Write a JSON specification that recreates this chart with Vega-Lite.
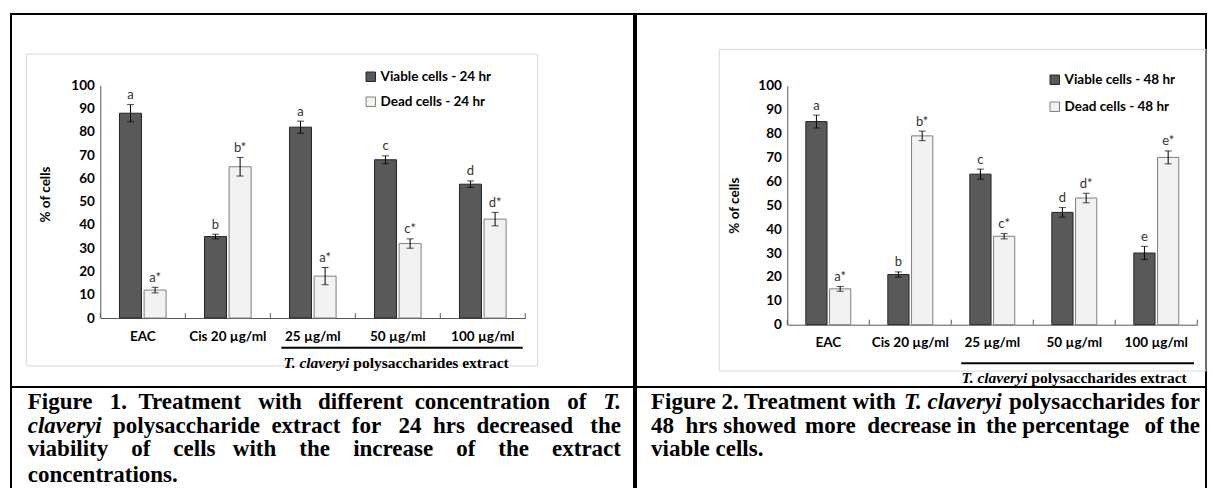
{
  "padding": {"left": 10, "top": 13, "right": 0, "bottom": 0},
  "background": "white",
  "config": {
    "view": {"stroke": "black", "strokeWidth": 2},
    "axisY": {"labelOverlap": false, "tickCount": 11},
    "axisX": {"labelOverlap": false},
    "style": {"cap": {"font": "Liberation Serif", "fontWeight": "bold", "fontSize": 23, "baseline": "alphabetic", "fill": "black"}}
  },
  "datasets": {
    "cells": [
      {"time": "24 hr", "group": "EAC", "cell": "Viable", "series": "Viable cells - 24 hr", "value": 88, "lo": 84.3, "hi": 91.7, "letter": "a"},
      {"time": "24 hr", "group": "EAC", "cell": "Dead", "series": "Dead cells - 24 hr", "value": 12, "lo": 10.8, "hi": 13.2, "letter": "a*"},
      {"time": "24 hr", "group": "Cis 20 µg/ml", "cell": "Viable", "series": "Viable cells - 24 hr", "value": 35, "lo": 34, "hi": 36, "letter": "b"},
      {"time": "24 hr", "group": "Cis 20 µg/ml", "cell": "Dead", "series": "Dead cells - 24 hr", "value": 65, "lo": 61, "hi": 69, "letter": "b*"},
      {"time": "24 hr", "group": "25 µg/ml", "cell": "Viable", "series": "Viable cells - 24 hr", "value": 82, "lo": 79.4, "hi": 84.6, "letter": "a"},
      {"time": "24 hr", "group": "25 µg/ml", "cell": "Dead", "series": "Dead cells - 24 hr", "value": 18, "lo": 14.3, "hi": 21.7, "letter": "a*"},
      {"time": "24 hr", "group": "50 µg/ml", "cell": "Viable", "series": "Viable cells - 24 hr", "value": 68, "lo": 66.3, "hi": 69.7, "letter": "c"},
      {"time": "24 hr", "group": "50 µg/ml", "cell": "Dead", "series": "Dead cells - 24 hr", "value": 32, "lo": 30, "hi": 34, "letter": "c*"},
      {"time": "24 hr", "group": "100 µg/ml", "cell": "Viable", "series": "Viable cells - 24 hr", "value": 57.5, "lo": 56.1, "hi": 58.9, "letter": "d"},
      {"time": "24 hr", "group": "100 µg/ml", "cell": "Dead", "series": "Dead cells - 24 hr", "value": 42.5, "lo": 39.6, "hi": 45.4, "letter": "d*"},
      {"time": "48 hr", "group": "EAC", "cell": "Viable", "series": "Viable cells - 48 hr", "value": 85, "lo": 82.3, "hi": 87.7, "letter": "a"},
      {"time": "48 hr", "group": "EAC", "cell": "Dead", "series": "Dead cells - 48 hr", "value": 15, "lo": 14, "hi": 16, "letter": "a*"},
      {"time": "48 hr", "group": "Cis 20 µg/ml", "cell": "Viable", "series": "Viable cells - 48 hr", "value": 21, "lo": 19.9, "hi": 22.1, "letter": "b"},
      {"time": "48 hr", "group": "Cis 20 µg/ml", "cell": "Dead", "series": "Dead cells - 48 hr", "value": 79, "lo": 77, "hi": 81, "letter": "b*"},
      {"time": "48 hr", "group": "25 µg/ml", "cell": "Viable", "series": "Viable cells - 48 hr", "value": 63, "lo": 60.9, "hi": 65.1, "letter": "c"},
      {"time": "48 hr", "group": "25 µg/ml", "cell": "Dead", "series": "Dead cells - 48 hr", "value": 37, "lo": 35.9, "hi": 38.1, "letter": "c*"},
      {"time": "48 hr", "group": "50 µg/ml", "cell": "Viable", "series": "Viable cells - 48 hr", "value": 47, "lo": 45, "hi": 49, "letter": "d"},
      {"time": "48 hr", "group": "50 µg/ml", "cell": "Dead", "series": "Dead cells - 48 hr", "value": 53, "lo": 51, "hi": 55, "letter": "d*"},
      {"time": "48 hr", "group": "100 µg/ml", "cell": "Viable", "series": "Viable cells - 48 hr", "value": 30, "lo": 27.2, "hi": 32.8, "letter": "e"},
      {"time": "48 hr", "group": "100 µg/ml", "cell": "Dead", "series": "Dead cells - 48 hr", "value": 70, "lo": 67.3, "hi": 72.7, "letter": "e*"}
    ],
    "span": [
      {"first": "25 µg/ml", "mid": "50 µg/ml", "last": "100 µg/ml", "species": "T. claveryi", "rest": "polysaccharides extract"}
    ]
  },
  "spacing": 0,
  "resolve": {
    "scale": {"fill": "independent", "stroke": "independent", "xOffset": "independent"},
    "legend": {"fill": "independent", "stroke": "independent"}
  },
  "hconcat": [
    {
      "spacing": 0,
      "bounds": "flush",
      "vconcat": [
        {
          "width": 623,
          "height": 373,
          "resolve": {"scale": {"x": "independent"}, "axis": {"x": "independent"}},
          "layer": [
            {
              "data": {"values": [{}]},
              "mark": {"type": "rect", "fill": "transparent", "stroke": "#d9d9d9", "strokeWidth": 1},
              "encoding": {
                "x": {"datum": 0.0246, "type": "quantitative", "scale": {"domain": [0, 1], "range": [0, 623], "nice": false, "zero": false}, "axis": null},
                "x2": {"datum": 0.8454},
                "y": {"datum": 113.45, "type": "quantitative"},
                "y2": {"datum": -20.6}
              }
            },
            {
              "layer": [
                {
                  "data": {"name": "cells"},
                  "transform": [{"filter": "datum.time === '24 hr'"}],
                  "mark": {"type": "bar", "strokeWidth": 1},
                  "encoding": {
                    "x": {"field": "group", "type": "nominal", "title": null,
                      "scale": {"domain": ["EAC", "Cis 20 µg/ml", "25 µg/ml", "50 µg/ml", "100 µg/ml"], "range": [89.3, 514.3], "paddingInner": 0, "paddingOuter": 0},
                      "axis": {"offset": -69, "ticks": false, "labelAngle": 0, "labelPadding": 11, "domainColor": "#595959", "labelFont": "Lato", "labelFontWeight": "bold", "labelFontSize": 13.5, "labelColor": "black", "labelOverlap": false}},
                    "xOffset": {"field": "series", "type": "nominal", "scale": {"domain": ["Viable cells - 24 hr", "Dead cells - 24 hr"], "paddingInner": 0.106, "paddingOuter": 0.78}},
                    "y": {"field": "value", "type": "quantitative", "title": "% of cells",
                      "scale": {"domain": [0, 100], "range": [304, 71.3], "nice": false, "zero": false},
                      "axis": {"offset": -89.3, "values": [0, 10, 20, 30, 40, 50, 60, 70, 80, 90, 100], "tickCount": 11, "labelOverlap": false, "ticks": false, "grid": false, "domainColor": "#595959", "labelFont": "Lato", "labelFontWeight": "bold", "labelFontSize": 13.5, "labelColor": "black", "labelPadding": 6, "titleFont": "Lato", "titleFontWeight": "bold", "titleFontSize": 13.5, "titleColor": "black", "titlePadding": 18, "titleY": 180}},
                    "fill": {"field": "series", "type": "nominal", "title": null,
                      "scale": {"domain": ["Viable cells - 24 hr", "Dead cells - 24 hr"], "range": ["#595959", "#f2f2f2"]},
                      "legend": {"orient": "none", "legendX": 353, "legendY": 56, "symbolType": "square", "symbolSize": 90, "symbolStrokeWidth": 1, "labelFont": "Lato", "labelFontWeight": "bold", "labelFontSize": 13.5, "labelColor": "black", "rowPadding": 10, "labelOffset": 3, "padding": 0}},
                    "stroke": {"field": "series", "type": "nominal", "title": null,
                      "scale": {"domain": ["Viable cells - 24 hr", "Dead cells - 24 hr"], "range": ["#262626", "#7f7f7f"]}}
                  }
                },
                {
                  "data": {"name": "cells"},
                  "transform": [{"filter": "datum.time === '24 hr'"}],
                  "mark": {"type": "rule", "color": "black", "strokeWidth": 1},
                  "encoding": {
                    "x": {"field": "group", "type": "nominal", "title": null},
                    "xOffset": {"field": "series", "type": "nominal"},
                    "y": {"field": "lo", "type": "quantitative", "title": "% of cells"},
                    "y2": {"field": "hi"}
                  }
                },
                {
                  "data": {"name": "cells"},
                  "transform": [{"filter": "datum.time === '24 hr'"}],
                  "mark": {"type": "tick", "orient": "horizontal", "size": 7, "thickness": 1, "color": "black"},
                  "encoding": {
                    "x": {"field": "group", "type": "nominal", "title": null},
                    "xOffset": {"field": "series", "type": "nominal"},
                    "y": {"field": "lo", "type": "quantitative", "title": "% of cells"}
                  }
                },
                {
                  "data": {"name": "cells"},
                  "transform": [{"filter": "datum.time === '24 hr'"}],
                  "mark": {"type": "tick", "orient": "horizontal", "size": 7, "thickness": 1, "color": "black"},
                  "encoding": {
                    "x": {"field": "group", "type": "nominal", "title": null},
                    "xOffset": {"field": "series", "type": "nominal"},
                    "y": {"field": "hi", "type": "quantitative", "title": "% of cells"}
                  }
                },
                {
                  "data": {"name": "cells"},
                  "transform": [{"filter": "datum.time === '24 hr'"}],
                  "mark": {"type": "text", "baseline": "alphabetic", "dy": -5.5, "font": "Lato", "fontSize": 13, "color": "#333333"},
                  "encoding": {
                    "x": {"field": "group", "type": "nominal", "title": null},
                    "xOffset": {"field": "series", "type": "nominal"},
                    "y": {"field": "hi", "type": "quantitative", "title": "% of cells"},
                    "text": {"field": "letter"}
                  }
                },
                {
                  "data": {"name": "cells"},
                  "transform": [{"filter": "datum.time === '24 hr' && datum.cell === 'Viable'"}],
                  "mark": {"type": "rule", "color": "#595959", "strokeWidth": 1},
                  "encoding": {
                    "x": {"field": "group", "type": "nominal", "title": null, "bandPosition": 0},
                    "y": {"datum": 0, "type": "quantitative"},
                    "y2": {"datum": 2.1}
                  }
                },
                {
                  "data": {"name": "cells"},
                  "transform": [{"filter": "datum.time === '24 hr' && datum.cell === 'Viable' && datum.group === '100 µg/ml'"}],
                  "mark": {"type": "rule", "color": "#595959", "strokeWidth": 1},
                  "encoding": {
                    "x": {"field": "group", "type": "nominal", "title": null, "bandPosition": 1},
                    "y": {"datum": 0, "type": "quantitative"},
                    "y2": {"datum": 2.1}
                  }
                },
                {
                  "data": {"name": "span"},
                  "mark": {"type": "rule", "color": "black", "strokeWidth": 2, "yOffset": 29.7},
                  "encoding": {
                    "x": {"field": "first", "type": "nominal", "title": null, "bandPosition": 0.13},
                    "x2": {"field": "last", "bandPosition": 0.97},
                    "y": {"datum": 0, "type": "quantitative"}
                  }
                },
                {
                  "data": {"name": "span"},
                  "mark": {"type": "text", "align": "right", "baseline": "middle", "dx": -6, "dy": 44.7, "font": "Liberation Serif", "fontWeight": "bold", "fontStyle": "italic", "fontSize": 15.5, "color": "black"},
                  "encoding": {
                    "x": {"field": "mid", "type": "nominal", "title": null, "bandPosition": 0},
                    "y": {"datum": 0, "type": "quantitative"},
                    "text": {"field": "species"}
                  }
                },
                {
                  "data": {"name": "span"},
                  "mark": {"type": "text", "align": "left", "baseline": "middle", "dx": -2, "dy": 44.7, "font": "Liberation Serif", "fontWeight": "bold", "fontSize": 15.5, "color": "black"},
                  "encoding": {
                    "x": {"field": "mid", "type": "nominal", "title": null, "bandPosition": 0},
                    "y": {"datum": 0, "type": "quantitative"},
                    "text": {"field": "rest"}
                  }
                }
              ]
            }
          ]
        },
        {
          "width": 623,
          "height": 102,
          "view": {"stroke": null},
          "layer": [
            {
              "data": {"values": [{}]},
              "mark": {"type": "rule", "color": "black", "strokeWidth": 2},
              "encoding": {
                "x": {"datum": -0.726, "type": "quantitative", "scale": {"domain": [-0.726, 26.362], "range": [0, 623], "nice": false, "zero": false}, "axis": null},
                "y": {"datum": 0.04, "type": "quantitative", "scale": {"domain": [0.04, 4.41], "range": [0, 102], "nice": false, "zero": false}, "axis": null},
                "y2": {"datum": 4.41}
              }
            },
            {
              "data": {"values": [{}]},
              "mark": {"type": "rule", "color": "black", "strokeWidth": 2},
              "encoding": {"x": {"datum": 26.362, "type": "quantitative"}, "y": {"datum": 0.04, "type": "quantitative"}, "y2": {"datum": 4.41}}
            },
            {
              "data": {"values": [{"t": "Figure\u00a0\u00a0\u00a01.\u00a0\u00a0Treatment\u00a0\u00a0\u00a0with"}]},
              "mark": {"type": "text", "style": "cap", "align": "left"},
              "encoding": {"x": {"datum": 0, "type": "quantitative"}, "y": {"datum": 1, "type": "quantitative"}, "text": {"field": "t"}}
            },
            {
              "data": {"values": [{"t": "different\u00a0\u00a0concentration\u00a0\u00a0\u00a0of"}]},
              "mark": {"type": "text", "style": "cap", "align": "right"},
              "encoding": {"x": {"datum": 24.296, "type": "quantitative"}, "y": {"datum": 1, "type": "quantitative"}, "text": {"field": "t"}}
            },
            {
              "data": {"values": [{"t": "T."}]},
              "mark": {"type": "text", "style": "cap", "align": "right", "fontStyle": "italic"},
              "encoding": {"x": {"datum": 25.796, "type": "quantitative"}, "y": {"datum": 1, "type": "quantitative"}, "text": {"field": "t"}}
            },
            {
              "data": {"values": [{"t": "claveryi"}]},
              "mark": {"type": "text", "style": "cap", "align": "left", "fontStyle": "italic"},
              "encoding": {"x": {"datum": 0, "type": "quantitative"}, "y": {"datum": 2, "type": "quantitative"}, "text": {"field": "t"}}
            },
            {
              "data": {"values": [{"t": "polysaccharide\u00a0\u00a0extract\u00a0\u00a0for\u00a0\u00a0\u00a024\u00a0\u00a0hrs\u00a0\u00a0decreased\u00a0\u00a0\u00a0the"}]},
              "mark": {"type": "text", "style": "cap", "align": "right"},
              "encoding": {"x": {"datum": 25.796, "type": "quantitative"}, "y": {"datum": 2, "type": "quantitative"}, "text": {"field": "t"}}
            },
            {
              "data": {"values": [{"t": "viability\u00a0\u00a0\u00a0\u00a0of\u00a0\u00a0\u00a0\u00a0cells\u00a0\u00a0\u00a0with\u00a0\u00a0\u00a0\u00a0the"}]},
              "mark": {"type": "text", "style": "cap", "align": "left"},
              "encoding": {"x": {"datum": 0, "type": "quantitative"}, "y": {"datum": 3, "type": "quantitative"}, "text": {"field": "t"}}
            },
            {
              "data": {"values": [{"t": "increase\u00a0\u00a0\u00a0\u00a0of\u00a0\u00a0\u00a0\u00a0the\u00a0\u00a0\u00a0\u00a0extract"}]},
              "mark": {"type": "text", "style": "cap", "align": "right"},
              "encoding": {"x": {"datum": 25.796, "type": "quantitative"}, "y": {"datum": 3, "type": "quantitative"}, "text": {"field": "t"}}
            },
            {
              "data": {"values": [{"t": "concentrations."}]},
              "mark": {"type": "text", "style": "cap", "align": "left"},
              "encoding": {"x": {"datum": 0, "type": "quantitative"}, "y": {"datum": 4.1, "type": "quantitative"}, "text": {"field": "t"}}
            }
          ]
        }
      ]
    },
    {
      "spacing": 0,
      "bounds": "flush",
      "vconcat": [
        {
          "width": 570,
          "height": 373,
          "resolve": {"scale": {"x": "independent"}, "axis": {"x": "independent"}},
          "layer": [
            {
              "data": {"values": [{}]},
              "mark": {"type": "rect", "fill": "transparent", "stroke": "#d9d9d9", "strokeWidth": 1},
              "encoding": {
                "x": {"datum": 0.146, "type": "quantitative", "scale": {"domain": [0, 1], "range": [0, 570], "nice": false, "zero": false}, "axis": null},
                "x2": {"datum": 1.0},
                "y": {"datum": 115.2, "type": "quantitative"},
                "y2": {"datum": -19.4}
              }
            },
            {
              "layer": [
                {
                  "data": {"name": "cells"},
                  "transform": [{"filter": "datum.time === '48 hr'"}],
                  "mark": {"type": "bar", "strokeWidth": 1},
                  "encoding": {
                    "x": {"field": "group", "type": "nominal", "title": null,
                      "scale": {"domain": ["EAC", "Cis 20 µg/ml", "25 µg/ml", "50 µg/ml", "100 µg/ml"], "range": [151.3, 561.3], "paddingInner": 0, "paddingOuter": 0},
                      "axis": {"offset": -62.3, "ticks": false, "labelAngle": 0, "labelPadding": 11, "domainColor": "#595959", "labelFont": "Lato", "labelFontWeight": "bold", "labelFontSize": 13.5, "labelColor": "black", "labelOverlap": false}},
                    "xOffset": {"field": "series", "type": "nominal", "scale": {"domain": ["Viable cells - 48 hr", "Dead cells - 48 hr"], "paddingInner": 0.106, "paddingOuter": 0.78}},
                    "y": {"field": "value", "type": "quantitative", "title": "% of cells",
                      "scale": {"domain": [0, 100], "range": [310.7, 71.7], "nice": false, "zero": false},
                      "axis": {"offset": -151.3, "values": [0, 10, 20, 30, 40, 50, 60, 70, 80, 90, 100], "tickCount": 11, "labelOverlap": false, "ticks": false, "grid": false, "domainColor": "#595959", "labelFont": "Lato", "labelFontWeight": "bold", "labelFontSize": 13.5, "labelColor": "black", "labelPadding": 6, "titleFont": "Lato", "titleFontWeight": "bold", "titleFontSize": 13.5, "titleColor": "black", "titlePadding": 16}},
                    "fill": {"field": "series", "type": "nominal", "title": null,
                      "scale": {"domain": ["Viable cells - 48 hr", "Dead cells - 48 hr"], "range": ["#595959", "#f2f2f2"]},
                      "legend": {"orient": "none", "legendX": 412, "legendY": 59, "symbolType": "square", "symbolSize": 90, "symbolStrokeWidth": 1, "labelFont": "Lato", "labelFontWeight": "bold", "labelFontSize": 13.5, "labelColor": "black", "rowPadding": 12, "labelOffset": 3, "padding": 0}},
                    "stroke": {"field": "series", "type": "nominal", "title": null,
                      "scale": {"domain": ["Viable cells - 48 hr", "Dead cells - 48 hr"], "range": ["#262626", "#7f7f7f"]}}
                  }
                },
                {
                  "data": {"name": "cells"},
                  "transform": [{"filter": "datum.time === '48 hr'"}],
                  "mark": {"type": "rule", "color": "black", "strokeWidth": 1},
                  "encoding": {
                    "x": {"field": "group", "type": "nominal", "title": null},
                    "xOffset": {"field": "series", "type": "nominal"},
                    "y": {"field": "lo", "type": "quantitative", "title": "% of cells"},
                    "y2": {"field": "hi"}
                  }
                },
                {
                  "data": {"name": "cells"},
                  "transform": [{"filter": "datum.time === '48 hr'"}],
                  "mark": {"type": "tick", "orient": "horizontal", "size": 7, "thickness": 1, "color": "black"},
                  "encoding": {
                    "x": {"field": "group", "type": "nominal", "title": null},
                    "xOffset": {"field": "series", "type": "nominal"},
                    "y": {"field": "lo", "type": "quantitative", "title": "% of cells"}
                  }
                },
                {
                  "data": {"name": "cells"},
                  "transform": [{"filter": "datum.time === '48 hr'"}],
                  "mark": {"type": "tick", "orient": "horizontal", "size": 7, "thickness": 1, "color": "black"},
                  "encoding": {
                    "x": {"field": "group", "type": "nominal", "title": null},
                    "xOffset": {"field": "series", "type": "nominal"},
                    "y": {"field": "hi", "type": "quantitative", "title": "% of cells"}
                  }
                },
                {
                  "data": {"name": "cells"},
                  "transform": [{"filter": "datum.time === '48 hr'"}],
                  "mark": {"type": "text", "baseline": "alphabetic", "dy": -5.5, "font": "Lato", "fontSize": 13, "color": "#333333"},
                  "encoding": {
                    "x": {"field": "group", "type": "nominal", "title": null},
                    "xOffset": {"field": "series", "type": "nominal"},
                    "y": {"field": "hi", "type": "quantitative", "title": "% of cells"},
                    "text": {"field": "letter"}
                  }
                },
                {
                  "data": {"name": "cells"},
                  "transform": [{"filter": "datum.time === '48 hr' && datum.cell === 'Viable'"}],
                  "mark": {"type": "rule", "color": "#595959", "strokeWidth": 1},
                  "encoding": {
                    "x": {"field": "group", "type": "nominal", "title": null, "bandPosition": 0},
                    "y": {"datum": 0, "type": "quantitative"},
                    "y2": {"datum": 2.1}
                  }
                },
                {
                  "data": {"name": "cells"},
                  "transform": [{"filter": "datum.time === '48 hr' && datum.cell === 'Viable' && datum.group === '100 µg/ml'"}],
                  "mark": {"type": "rule", "color": "#595959", "strokeWidth": 1},
                  "encoding": {
                    "x": {"field": "group", "type": "nominal", "title": null, "bandPosition": 1},
                    "y": {"datum": 0, "type": "quantitative"},
                    "y2": {"datum": 2.1}
                  }
                },
                {
                  "data": {"name": "span"},
                  "mark": {"type": "rule", "color": "black", "strokeWidth": 2, "yOffset": 38.6},
                  "encoding": {
                    "x": {"field": "first", "type": "nominal", "title": null, "bandPosition": 0.12},
                    "x2": {"field": "last", "bandPosition": 0.96},
                    "y": {"datum": 0, "type": "quantitative"}
                  }
                },
                {
                  "data": {"name": "span"},
                  "mark": {"type": "text", "align": "right", "baseline": "middle", "dx": -6, "dy": 53, "font": "Liberation Serif", "fontWeight": "bold", "fontStyle": "italic", "fontSize": 15.5, "color": "black"},
                  "encoding": {
                    "x": {"field": "mid", "type": "nominal", "title": null, "bandPosition": 0},
                    "y": {"datum": 0, "type": "quantitative"},
                    "text": {"field": "species"}
                  }
                },
                {
                  "data": {"name": "span"},
                  "mark": {"type": "text", "align": "left", "baseline": "middle", "dx": -2, "dy": 53, "font": "Liberation Serif", "fontWeight": "bold", "fontSize": 15.5, "color": "black"},
                  "encoding": {
                    "x": {"field": "mid", "type": "nominal", "title": null, "bandPosition": 0},
                    "y": {"datum": 0, "type": "quantitative"},
                    "text": {"field": "rest"}
                  }
                }
              ]
            }
          ]
        },
        {
          "width": 570,
          "height": 102,
          "view": {"stroke": null},
          "layer": [
            {
              "data": {"values": [{}]},
              "mark": {"type": "rule", "color": "black", "strokeWidth": 2},
              "encoding": {
                "x": {"datum": -0.652, "type": "quantitative", "scale": {"domain": [-0.652, 24.13], "range": [0, 570], "nice": false, "zero": false}, "axis": null},
                "y": {"datum": 0.04, "type": "quantitative", "scale": {"domain": [0.04, 4.41], "range": [0, 102], "nice": false, "zero": false}, "axis": null},
                "y2": {"datum": 4.41}
              }
            },
            {
              "data": {"values": [{}]},
              "mark": {"type": "rule", "color": "black", "strokeWidth": 2},
              "encoding": {"x": {"datum": 24.13, "type": "quantitative"}, "y": {"datum": 0.04, "type": "quantitative"}, "y2": {"datum": 4.41}}
            },
            {
              "data": {"values": [{"t": "Figure 2. Treatment with"}]},
              "mark": {"type": "text", "style": "cap", "align": "left"},
              "encoding": {"x": {"datum": 0, "type": "quantitative"}, "y": {"datum": 1, "type": "quantitative"}, "text": {"field": "t"}}
            },
            {
              "data": {"values": [{"t": "T. claveryi"}]},
              "mark": {"type": "text", "style": "cap", "align": "left", "fontStyle": "italic"},
              "encoding": {"x": {"datum": 11.002, "type": "quantitative"}, "y": {"datum": 1, "type": "quantitative"}, "text": {"field": "t"}}
            },
            {
              "data": {"values": [{"t": "polysaccharides for"}]},
              "mark": {"type": "text", "style": "cap", "align": "right"},
              "encoding": {"x": {"datum": 23.87, "type": "quantitative"}, "y": {"datum": 1, "type": "quantitative"}, "text": {"field": "t"}}
            },
            {
              "data": {"values": [{"t": "48\u00a0\u00a0hrs showed"}]},
              "mark": {"type": "text", "style": "cap", "align": "left"},
              "encoding": {"x": {"datum": 0, "type": "quantitative"}, "y": {"datum": 2, "type": "quantitative"}, "text": {"field": "t"}}
            },
            {
              "data": {"values": [{"t": "more\u00a0\u00a0decrease in"}]},
              "mark": {"type": "text", "style": "cap", "align": "left"},
              "encoding": {"x": {"datum": 6.699, "type": "quantitative"}, "y": {"datum": 2, "type": "quantitative"}, "text": {"field": "t"}}
            },
            {
              "data": {"values": [{"t": "the percentage"}]},
              "mark": {"type": "text", "style": "cap", "align": "left"},
              "encoding": {"x": {"datum": 14.562, "type": "quantitative"}, "y": {"datum": 2, "type": "quantitative"}, "text": {"field": "t"}}
            },
            {
              "data": {"values": [{"t": "of the"}]},
              "mark": {"type": "text", "style": "cap", "align": "right"},
              "encoding": {"x": {"datum": 23.87, "type": "quantitative"}, "y": {"datum": 2, "type": "quantitative"}, "text": {"field": "t"}}
            },
            {
              "data": {"values": [{"t": "viable cells."}]},
              "mark": {"type": "text", "style": "cap", "align": "left"},
              "encoding": {"x": {"datum": 0, "type": "quantitative"}, "y": {"datum": 3, "type": "quantitative"}, "text": {"field": "t"}}
            }
          ]
        }
      ]
    }
  ]
}
